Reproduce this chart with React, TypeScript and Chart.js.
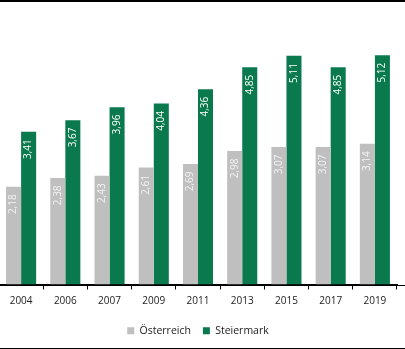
import React, { useEffect, useRef } from "react";
import { Chart, registerables } from "chart.js";

Chart.register(...registerables);

const categories = ["2004", "2006", "2007", "2009", "2011", "2013", "2015", "2017", "2019"];
const oesterreich = [2.18, 2.38, 2.43, 2.61, 2.69, 2.98, 3.07, 3.07, 3.14];
const steiermark = [3.41, 3.67, 3.96, 4.04, 4.36, 4.85, 5.11, 4.85, 5.12];
const seriesNames = ["Österreich", "Steiermark"];

const GRAY = "#bfbfbf";
const GREEN = "#0a7a4e";
const FONT = "'Open Sans', sans-serif";

const barLabels = {
  id: "barLabels",
  afterDatasetsDraw(chart: any) {
    const ctx = chart.ctx;
    ctx.save();
    ctx.font = `10px ${FONT}`;
    ctx.textAlign = "right";
    ctx.textBaseline = "middle";
    chart.data.datasets.forEach((ds: any, di: number) => {
      const meta = chart.getDatasetMeta(di);
      ctx.fillStyle = di === 0 ? "#f4f4f4" : "#ffffff";
      meta.data.forEach((bar: any, i: number) => {
        const v = ds.data[i];
        const label = v.toFixed(2).replace(".", ",");
        ctx.save();
        ctx.translate(bar.x, bar.y + 7.5);
        ctx.rotate(-Math.PI / 2);
        ctx.fillText(label, 0, 0);
        ctx.restore();
      });
    });
    ctx.restore();
  },
};

const axisExtend = {
  id: "axisExtend",
  afterDraw(chart: any) {
    const ctx = chart.ctx;
    const y = chart.chartArea.bottom;
    ctx.save();
    ctx.strokeStyle = "#000000";
    ctx.lineWidth = 1;
    ctx.beginPath();
    ctx.moveTo(0, Math.round(y) + 0.5);
    ctx.lineTo(chart.width, Math.round(y) + 0.5);
    ctx.stroke();
    ctx.restore();
  },
};

export default function App() {
  const ref = useRef<HTMLCanvasElement>(null);
  useEffect(() => {
    if (!ref.current) return;
    const chart = new Chart(ref.current, {
      type: "bar",
      data: {
        labels: categories,
        datasets: [
          { label: seriesNames[0], data: oesterreich, backgroundColor: GRAY, categoryPercentage: 0.68, barPercentage: 1 },
          { label: seriesNames[1], data: steiermark, backgroundColor: GREEN, categoryPercentage: 0.68, barPercentage: 1 },
        ],
      },
      options: {
        animation: false,
        responsive: true,
        maintainAspectRatio: false,
        layout: { padding: { top: 0, left: 0, right: 8, bottom: 2 } },
        scales: {
          x: {
            grid: { display: true, drawOnChartArea: false, drawTicks: true, tickLength: 5, offset: true, color: "#000000" },
            border: { display: true, color: "#000000" },
            ticks: { color: "#222222", font: { family: FONT, size: 10 }, padding: 6, maxRotation: 0 },
          },
          y: { display: false, min: 0, max: 6.33 },
        },
        plugins: {
          legend: {
            position: "bottom",
            labels: { boxWidth: 7, boxHeight: 7, color: "#222222", font: { family: FONT, size: 10.5 }, padding: 12 },
          },
          tooltip: { enabled: false },
        },
      },
      plugins: [barLabels, axisExtend],
    });
    return () => chart.destroy();
  }, []);
  return (
    <div
      style={{
        position: "fixed",
        top: 0,
        left: 0,
        width: 405,
        height: 349,
        overflow: "hidden",
        background: "#fff",
      }}
    >
      <div style={{ position: "absolute", top: 1, left: -1, width: 406, height: 347 }}>
        <canvas ref={ref} />
      </div>
      <div style={{ position: "absolute", top: 0, left: 0, width: 405, height: 2, background: "#000", zIndex: 5 }} />
      <div style={{ position: "absolute", top: 348, left: 0, width: 405, height: 1, background: "#000", zIndex: 5 }} />
    </div>
  );
}
